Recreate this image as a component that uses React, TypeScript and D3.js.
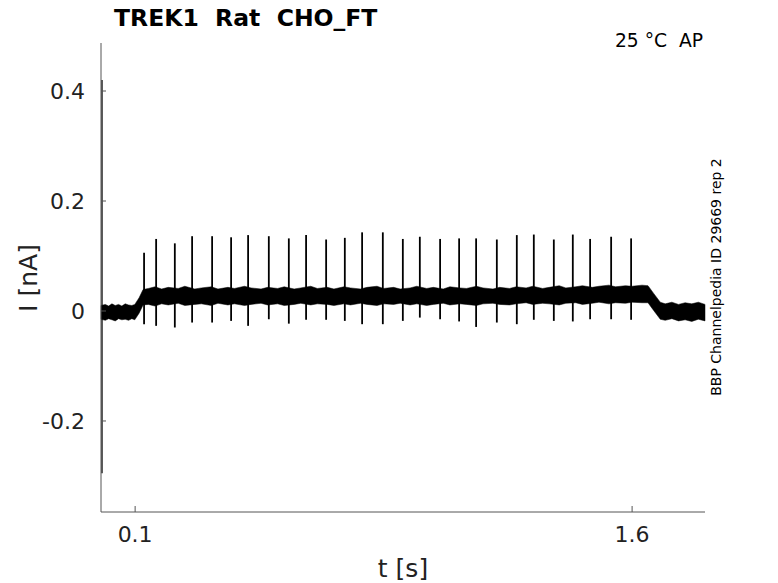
import React from "react";
import * as d3 from "d3";

// ---- data ----
const spikeT = [0.127, 0.1634, 0.2198, 0.272, 0.3324, 0.3897, 0.441, 0.5035, 0.5639, 0.616, 0.6765, 0.7329, 0.7851, 0.8476, 0.908, 0.9593, 1.0205, 1.0779, 1.1292, 1.1917, 1.252, 1.3033, 1.3637, 1.421, 1.4733, 1.5367, 1.597];
const spikeTop = [0.106, 0.131, 0.123, 0.136, 0.136, 0.134, 0.138, 0.136, 0.132, 0.138, 0.13, 0.133, 0.143, 0.143, 0.131, 0.135, 0.131, 0.132, 0.132, 0.13, 0.138, 0.139, 0.13, 0.139, 0.131, 0.135, 0.132];
const spikeBottom = [-0.024, -0.027, -0.03, -0.021, -0.021, -0.018, -0.027, -0.015, -0.023, -0.016, -0.016, -0.018, -0.024, -0.024, -0.018, -0.012, -0.015, -0.019, -0.029, -0.021, -0.024, -0.016, -0.018, -0.019, -0.015, -0.015, -0.016];

const envT = [-0.003, 0.01, 0.02, 0.03, 0.04, 0.05, 0.06, 0.07, 0.08, 0.09, 0.099, 0.112, 0.124,
  0.14, 0.16, 0.18, 0.2, 0.23, 0.25, 0.28, 0.3, 0.33, 0.35, 0.38, 0.4, 0.43, 0.45, 0.48, 0.5, 0.53, 0.55, 0.58, 0.6, 0.63, 0.65, 0.68, 0.7, 0.73, 0.75, 0.78, 0.8, 0.83, 0.85, 0.88, 0.9, 0.93, 0.95, 0.98, 1.0, 1.03, 1.05, 1.08, 1.1, 1.13, 1.15, 1.18, 1.2, 1.23, 1.25, 1.28, 1.3, 1.33, 1.35, 1.38, 1.4, 1.43, 1.45, 1.48, 1.5, 1.53, 1.55, 1.58, 1.6, 1.63,
  1.648, 1.665, 1.685, 1.7, 1.72, 1.74, 1.76, 1.78, 1.8, 1.82];
const envUpper = [0.01, 0.012, 0.009, 0.013, 0.01, 0.012, 0.009, 0.013, 0.011, 0.01, 0.012, 0.024, 0.039,
  0.041, 0.044, 0.04, 0.043, 0.041, 0.045, 0.04, 0.042, 0.044, 0.04, 0.043, 0.041, 0.045, 0.042, 0.04, 0.043, 0.041, 0.044, 0.04, 0.042, 0.045, 0.041, 0.043, 0.04, 0.044, 0.042, 0.04, 0.043, 0.045, 0.041, 0.043, 0.04, 0.042, 0.045, 0.041, 0.043, 0.04, 0.044, 0.042, 0.041, 0.045, 0.042, 0.04, 0.043, 0.041, 0.044, 0.042, 0.045, 0.041, 0.043, 0.046, 0.042, 0.044, 0.046, 0.043, 0.045, 0.047, 0.044, 0.046, 0.045, 0.047,
  0.046, 0.032, 0.016, 0.013, 0.016, 0.012, 0.015, 0.013, 0.016, 0.012];
const envLower = [-0.015, -0.017, -0.014, -0.016, -0.018, -0.014, -0.016, -0.015, -0.017, -0.014, -0.016, -0.004, 0.011,
  0.012, 0.009, 0.013, 0.011, 0.014, 0.01, 0.012, 0.013, 0.01, 0.014, 0.011, 0.013, 0.01, 0.012, 0.014, 0.011, 0.013, 0.01, 0.012, 0.014, 0.011, 0.013, 0.012, 0.01, 0.013, 0.011, 0.014, 0.012, 0.01, 0.013, 0.012, 0.014, 0.011, 0.013, 0.01, 0.012, 0.014, 0.011, 0.013, 0.012, 0.01, 0.013, 0.014, 0.012, 0.011, 0.013, 0.015, 0.012, 0.014, 0.013, 0.011, 0.014, 0.015, 0.012, 0.014, 0.016, 0.013, 0.015, 0.014, 0.016, 0.015,
  0.015, 0.001, -0.015, -0.017, -0.014, -0.018, -0.016, -0.019, -0.015, -0.018];

const transientT = [0, 0, 0];
const transientV = [-0.003, 0.42, -0.295];

const xTicks = [0.1, 1.6];
const xTickLabels = ["0.1", "1.6"];
const yTicks = [0.4, 0.2, 0, -0.2];
const yTickLabels = ["0.4", "0.2", "0", "-0.2"];

const title = "TREK1  Rat  CHO_FT";
const condition = "25 °C  AP";
const sideNote = "BBP Channelpedia ID 29669 rep 2";

export default function App() {
  const W = 778, H = 583;
  const left = 101, right = 705, top = 43, bottom = 512;
  const x = d3.scaleLinear().domain([-0.003, 1.82]).range([left, right]);
  const y = d3.scaleLinear().domain([-0.3655, 0.4873]).range([bottom, top]);

  const envData = envT.map((t, i) => ({ t, lo: envLower[i], hi: envUpper[i] }));
  const area = d3.area<{ t: number; lo: number; hi: number }>()
    .x(d => x(d.t)).y0(d => y(d.lo)).y1(d => y(d.hi));
  const line = d3.line<[number, number]>().x(d => x(d[0])).y(d => y(d[1]));
  const transient = line(transientT.map((t, i) => [t, transientV[i]] as [number, number]));

  const font = "DejaVu Sans, sans-serif";
  const axisColor = "#555";
  const textColor = "#222";

  return (
    <svg width={W} height={H} style={{ position: "absolute", left: 0, top: 0 }} fontFamily={font}>
      <rect width={W} height={H} fill="#fff" />
      {/* trace */}
      <path d={area(envData) || ""} fill="#000" stroke="#000" strokeWidth={0.5} strokeLinejoin="miter" />
      {spikeT.map((t, i) => (
        <line key={i} x1={x(t)} x2={x(t)} y1={y(spikeTop[i])} y2={y(spikeBottom[i])} stroke="#000" strokeWidth={1.8} />
      ))}
      <path d={transient || ""} fill="none" stroke="#000" strokeWidth={1.3} />

      {/* axes */}
      <line x1={left} x2={right} y1={bottom} y2={bottom} stroke={axisColor} strokeWidth={1} />
      <line x1={left} x2={left} y1={top} y2={bottom} stroke={axisColor} strokeWidth={1} />
      {yTicks.map((v, i) => (
        <g key={"y" + i}>
          <line x1={left} x2={left + 5} y1={y(v)} y2={y(v)} stroke={axisColor} />
          <text x={left - 16} y={y(v)} dy="0.36em" textAnchor="end" fontSize={22} fill={textColor}>{yTickLabels[i]}</text>
        </g>
      ))}
      {xTicks.map((v, i) => (
        <g key={"x" + i}>
          <line x1={x(v)} x2={x(v)} y1={bottom} y2={bottom - 6} stroke={axisColor} />
          <text x={x(v)} y={542} textAnchor="middle" fontSize={22} fill={textColor}>{xTickLabels[i]}</text>
        </g>
      ))}

      {/* labels */}
      <text x={403} y={577} textAnchor="middle" fontSize={25} fill={textColor}>t [s]</text>
      <text transform={`translate(37,278) rotate(-90)`} textAnchor="middle" fontSize={25} fill={textColor}>I [nA]</text>
      <text x={114} y={26} fontSize={23.5} fontWeight="bold" fill="#000" style={{ whiteSpace: "pre" }}>{title}</text>
      <text x={703} y={47} textAnchor="end" fontSize={18.7} fill="#000" style={{ whiteSpace: "pre" }}>{condition}</text>
      <text transform={`translate(721,277) rotate(-90)`} textAnchor="middle" fontSize={14} fill="#000">{sideNote}</text>
    </svg>
  );
}
